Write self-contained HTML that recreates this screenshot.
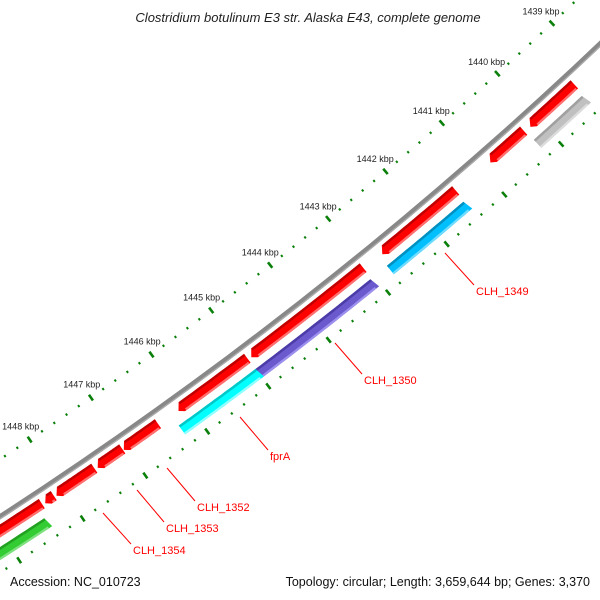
<!DOCTYPE html>
<html><head><meta charset="utf-8"><style>
html,body{margin:0;padding:0;background:#fff}
svg{display:block}
text{font-family:"Liberation Sans",sans-serif}
</style></head><body>
<svg id="map" width="600" height="600" viewBox="0 0 600 600" xmlns="http://www.w3.org/2000/svg">
<text x="308" y="22" text-anchor="middle" font-size="13" font-style="italic" fill="#222">Clostridium botulinum E3 str. Alaska E43, complete genome</text>
<g id="ticks"></g>
<g id="backbone"></g>
<g id="features"></g>
<g id="labels"></g>
<text x="10" y="586" font-size="12.5" fill="#111">Accession: NC_010723</text>
<text x="590" y="586" text-anchor="end" font-size="12.5" fill="#111">Topology: circular; Length: 3,659,644 bp; Genes: 3,370</text>
</svg>
<script>
// data (kbp)
const majorTicks = [1439,1440,1441,1442,1443,1444,1445,1446,1447,1448,1449];
const featStart = [1439.34,1440.25,1441.45,1443.05,1445.00,1446.47,1447.05,1447.50,1448.15,1448.34, 1439.34,1441.44,1443.04,1444.97,1448.39];
const featEnd   = [1440.15,1440.86,1442.74,1444.95,1446.15,1447.04,1447.46,1448.12,1448.30,1449.60, 1440.23,1442.79,1445.01,1446.26,1449.60];
const featStrand = [1,1,1,1,1,1,1,1,1,1,-1,-1,-1,-1,-1];
const featColor = ['#ff0000','#ff0000','#ff0000','#ff0000','#ff0000','#ff0000','#ff0000','#ff0000','#ff0000','#ff0000','#c0c0c0','#00bfff','#6a5acd','#00ffff','#33cc33'];
const featDark = ['#c00000','#c00000','#c00000','#c00000','#c00000','#c00000','#c00000','#c00000','#c00000','#c00000','#a0a0a0','#0090c0','#4b3ca8','#00c8c8','#22a022'];
const featLight = ['#ff7070','#ff7070','#ff7070','#ff7070','#ff7070','#ff7070','#ff7070','#ff7070','#ff7070','#ff7070','#dcdcdc','#70dcff','#9c90ee','#90ffff','#80e080'];
const labelText = ['CLH_1349','CLH_1350','fprA','CLH_1352','CLH_1353','CLH_1354'];
const labelX = [476,364,270,197,166,133];
const labelY = [295,384,460,511,532,554];
const lineFrom = [[445,253],[335,343],[240,417],[167,468],[137,490],[103,513]];

const NS='http://www.w3.org/2000/svg';
const cx=-2262, cy=-2971, R0=4157;
function ang(k){return (48.85+(k-1441)*1.036)*Math.PI/180;}
function pt(r,k){const a=ang(k);return [cx+r*Math.cos(a), cy+r*Math.sin(a)];}
function mk(tag,attrs,parent){const e=document.createElementNS(NS,tag);for(const k in attrs)e.setAttribute(k,attrs[k]);parent.appendChild(e);return e;}
function band(r1,r2,k1,k2){ // polygon along arc
  const n=20,p=[];
  for(let i=0;i<=n;i++)p.push(pt(r1,k1+(k2-k1)*i/n));
  for(let i=n;i>=0;i--)p.push(pt(r2,k1+(k2-k1)*i/n));
  return p.map(q=>q[0].toFixed(1)+','+q[1].toFixed(1)).join(' ');
}
// backbone
const bb=document.getElementById('backbone');
let e=mk('polygon',{points:band(R0-2.5,R0+2.5,1438,1450),fill:'#888'},bb);


e=mk('polygon',{points:band(R0+1.2,R0+2.5,1438,1450),fill:'#aaa'},bb);


// ticks
const tg=document.getElementById('ticks');
const rings=[4109,4204];
rings.forEach((rr,ri)=>{
  for(let t=1438;t<=1450.001;t+=0.2){
    const major=Math.abs(t-Math.round(t))<0.01;
    const h=major?3.5:1.2;
    const a=pt(rr-h,t),b=pt(rr+h,t);
    e=mk('line',{x1:a[0],y1:a[1],x2:b[0],y2:b[1],stroke:'#0a800a','stroke-width':major?2.6:2},tg);
    
    
  }
});
majorTicks.forEach(k=>{
  const p=pt(4109-16,k);
  e=mk('text',{x:p[0].toFixed(1),y:(p[1]+3).toFixed(1),'text-anchor':'middle','font-size':'9',fill:'#222'},tg);
  e.textContent=k+' kbp';
  
  
});
// features
const fg=document.getElementById('features');
featStart.forEach((s,i)=>{
  const en=featEnd[i], fwd=featStrand[i]>0;
  const rc=fwd?4169:4188, w=5.5;
  const r1=rc-w,r2=rc+w;
  const g=mk('g',{},fg);
  
  
  const tip=0.07;
  let pts=[];
  const n=20;
  if(fwd){
    const ke=en-tip;
    for(let j=0;j<=n;j++)pts.push(pt(r1,s+(ke-s)*j/n));
    pts.push(pt(rc+w*0.3,en));
    for(let j=n;j>=0;j--)pts.push(pt(r2,s+(ke-s)*j/n));
  } else {
    const ks=s+0.03;
    for(let j=0;j<=n;j++)pts.push(pt(r1,ks+(en-ks)*j/n));
    for(let j=n;j>=0;j--)pts.push(pt(r2,s+(en-s)*j/n));
  }
  mk('polygon',{points:pts.map(q=>q[0].toFixed(1)+','+q[1].toFixed(1)).join(' '),fill:featColor[i]},g);
  const k2=fwd?en-tip:en, k1=fwd?s:s+0.03;
  mk('polygon',{points:band(r1,r1+2.5,k1,k2),fill:featDark[i]},g);
  mk('polygon',{points:band(r2-2.2,r2,k1+0.02,k2-(fwd?0.02:0)),fill:featLight[i]},g);
});
// labels
const lg=document.getElementById('labels');
labelText.forEach((t,i)=>{
  e=mk('line',{x1:lineFrom[i][0],y1:lineFrom[i][1],x2:labelX[i]-2,y2:labelY[i]-10,stroke:'#ff0000','stroke-width':1},lg);
  
  
  e=mk('text',{x:labelX[i],y:labelY[i],'font-size':'11',fill:'#ff0000'},lg);
  e.textContent=t;
  
  
});
</script>
</body></html>
